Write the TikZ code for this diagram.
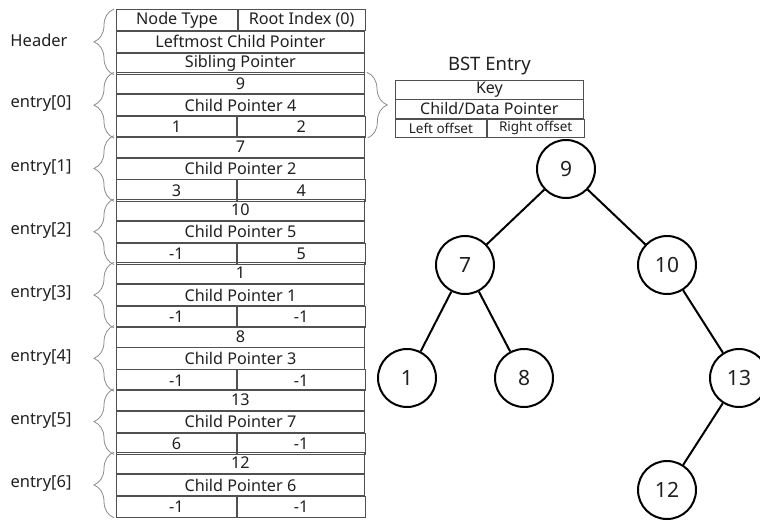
\documentclass[tikz,border=0pt]{standalone}
\usepackage{fontspec}
\setmainfont{Noto Sans}
\usetikzlibrary{positioning,decorations.pathreplacing}
\definecolor{CellLine}{HTML}{505050}
\definecolor{BraceGray}{HTML}{8C8C8C}
\definecolor{InkText}{HTML}{202020}

\begin{document}
\begin{tikzpicture}[x=1pt,y=-1pt,
  cell/.style={draw=CellLine,line width=0.8pt,minimum height=21.1pt,inner sep=0pt,
    anchor=north west,text=InkText,font=\fontsize{16.2}{18}\selectfont},
  fullcell/.style={cell,minimum width=248pt},
  leftcell/.style={cell,minimum width=120pt},
  rightcell/.style={cell,minimum width=128pt},
  grouplabel/.style={text=InkText,font=\fontsize{16.5}{18}\selectfont},
  brace/.style={draw=BraceGray,line width=0.8pt,decorate,decoration={brace,amplitude=20pt}},
  bstcell/.style={draw=CellLine,line width=0.8pt,minimum height=18.5pt,inner sep=0pt,
    anchor=north west,text=InkText,font=\fontsize{16}{17}\selectfont},
  bstnode/.style={circle,draw=black,line width=2pt,minimum size=58pt,inner sep=0pt,
    text=InkText,font=\fontsize{21}{23}\selectfont},
  edge/.style={line width=2pt}]
  \useasboundingbox (0,0) rectangle (760,520);

  % header block
  \node[leftcell,minimum width=121pt] (ntype) at (116,9) {Node Type};
  \node[rightcell,minimum width=127pt] (root) at (ntype.north east) {Root Index (0)};
  \node[fullcell] (leftmost) at (ntype.south west) {Leftmost Child Pointer};
  \node[fullcell] (sibling) at (leftmost.south west) {Sibling Pointer};
  \draw[brace] ([xshift=-2pt]sibling.south west) -- ([xshift=-2pt]ntype.north west);
  \node[grouplabel] (hdr) at (39,40) {Header};

  % entries
  \foreach \k/\p/\l/\r [count=\i from 0] in
      {9/4/1/2, 7/2/3/4, 10/5/-1/5, 1/1/-1/-1, 8/3/-1/-1, 13/7/6/-1, 12/6/-1/-1} {
    \pgfmathsetmacro\rowy{9+21.1*(3+3*\i)}
    \node[fullcell] (key\i) at (116,\rowy) {\k};
    \node[fullcell] (ptr\i) at (key\i.south west) {Child Pointer \p};
    \node[leftcell] (lo\i) at (ptr\i.south west) {\l};
    \node[rightcell] (ro\i) at (lo\i.north east) {\r};
    \draw[brace] ([xshift=-2pt]lo\i.south west) -- ([xshift=-2pt]key\i.north west);
    \node[grouplabel] (lab\i) at (41,\rowy+31.6) {entry[\i]};
  }

  % bst entry layout
  \draw[brace] ([xshift=2pt]key0.north east) -- ([xshift=2pt]ro0.south east);
  \node[bstcell,minimum width=188pt] (bkey) at (395,80) {Key};
  \node[bstcell,minimum width=188pt] (bptr) at (bkey.south west) {Child/Data Pointer};
  \node[bstcell,minimum width=91pt,font=\fontsize{13.5}{15}\selectfont] (boff) at (bptr.south west) {Left offset};
  \node[bstcell,minimum width=97pt,font=\fontsize{13.5}{15}\selectfont] (roff) at (boff.north east) {Right offset};
  \node[text=InkText,font=\fontsize{18.5}{20}\selectfont,above=2pt of bkey] (btitle) {BST Entry};

  % tree
  \node[bstnode] (n9) at (566,169) {9};
  \node[bstnode] (n7) at (465,265) {7};
  \node[bstnode] (n10) at (667,265) {10};
  \node[bstnode] (n1) at (407,378) {1};
  \node[bstnode] (n8) at (524,378) {8};
  \node[bstnode] (n13) at (739,378) {13};
  \node[bstnode] (n12) at (667,490) {12};
  \draw[edge] (n9) -- (n7);
  \draw[edge] (n9) -- (n10);
  \draw[edge] (n7) -- (n1);
  \draw[edge] (n7) -- (n8);
  \draw[edge] (n10) -- (n13);
  \draw[edge] (n13) -- (n12);
\end{tikzpicture}
\end{document}
